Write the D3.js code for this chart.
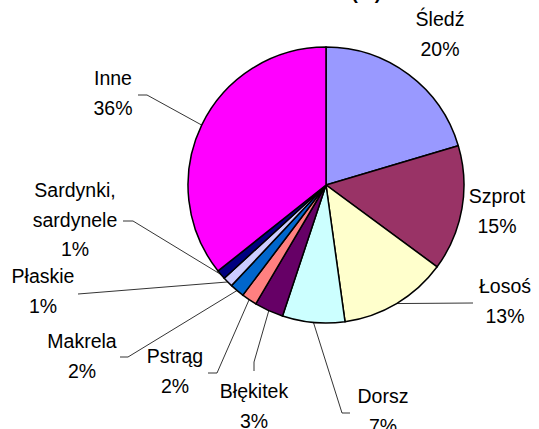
<!DOCTYPE html>
<head>
<meta charset="utf-8">
<script src="https://d3js.org/d3.v7.min.js"></script>
<style>
    body { margin: 0; background: #fff; }
    text {
        font-family: "Liberation Sans", Arial, sans-serif;
        font-size: 19.5px;
        fill: #000;
    }
    .title { font-weight: bold; font-size: 19px; }
    .slice { stroke: #000; stroke-width: 1.5px; }
    .leader { fill: none; stroke: #000; stroke-width: 0.8px; }
</style>
</head>
<body>
<svg width="539" height="429"></svg>
<script>
    // data
    var categories = ["Śledź", "Szprot", "Łosoś", "Dorsz", "Błękitek", "Pstrąg", "Makrela", "Płaskie", "Sardynki,\nsardynele", "Inne"];
    var shares = [20.4, 14.7, 12.7, 7.3, 3.4, 1.8, 1.7, 1.2, 1.1, 35.7];
    var colors = ["#9999FF", "#993366", "#FFFFCC", "#CCFFFF", "#660066", "#FF8080", "#0066CC", "#CCCCFF", "#000080", "#FF00FF"];

    // where each label sits: text centre, first baseline, leader elbow + end (none = no leader)
    var labelPos = [
        {x: 440, y: 26},
        {x: 497, y: 203},
        {x: 505, y: 293, elbow: [473, 303], end: [473, 303]},
        {x: 383, y: 403, elbow: [342, 413], end: [350, 413]},
        {x: 254, y: 398, elbow: [254, 362], end: [254, 371]},
        {x: 175, y: 363, elbow: [217, 373], end: [208, 373]},
        {x: 82,  y: 348, elbow: [128, 357], end: [120, 357]},
        {x: 43,  y: 283, elbow: [78, 294],  end: [78, 294]},
        {x: 75,  y: 197, elbow: [133, 221], end: [123, 221]},
        {x: 113, y: 85,  elbow: [147, 95],  end: [138, 95]}
    ];

    var svg = d3.select("svg"),
        cx = 326, cy = 185, r = 138,
        lineH = 29.5;

    // title, almost all of it above the top edge like in the original
    svg.append("text")
        .attr("class", "title")
        .attr("x", 381)
        .attr("y", -1)
        .style("text-anchor", "end")
        .text("Struktura ilościowa (%)");

    var data = categories.map(function(c, i) { return {name: c, value: shares[i], color: colors[i], pos: labelPos[i]}; });

    var pie = d3.pie().sort(null).value(function(d) { return d.value; });
    var arc = d3.arc().innerRadius(0).outerRadius(r);
    var arcs = pie(data);

    var g = svg.append("g").attr("transform", "translate(" + cx + "," + cy + ")");

    g.selectAll(".slice")
        .data(arcs)
        .enter().append("path")
        .attr("class", "slice")
        .attr("fill", function(d) { return d.data.color; })
        .attr("d", arc);

    // leader lines from the slice rim to the label
    svg.selectAll(".leader")
        .data(arcs.filter(function(d) { return d.data.pos.elbow; }))
        .enter().append("polyline")
        .attr("class", "leader")
        .attr("points", function(d) {
            var a = (d.startAngle + d.endAngle) / 2,
                px = cx + r * Math.sin(a),
                py = cy - r * Math.cos(a);
            var p = d.data.pos;
            return [[px, py], p.elbow, p.end].map(function(q) { return q.join(","); }).join(" ");
        });

    var fmt = function(v) { return Math.round(v) + "%"; };

    var lbl = svg.selectAll(".lbl")
        .data(arcs)
        .enter().append("text")
        .attr("class", "lbl")
        .style("text-anchor", "middle");

    lbl.each(function(d) {
        var t = d3.select(this),
            lines = d.data.name.split("\n").concat([fmt(d.data.value)]);
        lines.forEach(function(s, i) {
            t.append("tspan")
                .attr("x", d.data.pos.x)
                .attr("y", d.data.pos.y + i * lineH)
                .text(s);
        });
    });
</script>
</body>
